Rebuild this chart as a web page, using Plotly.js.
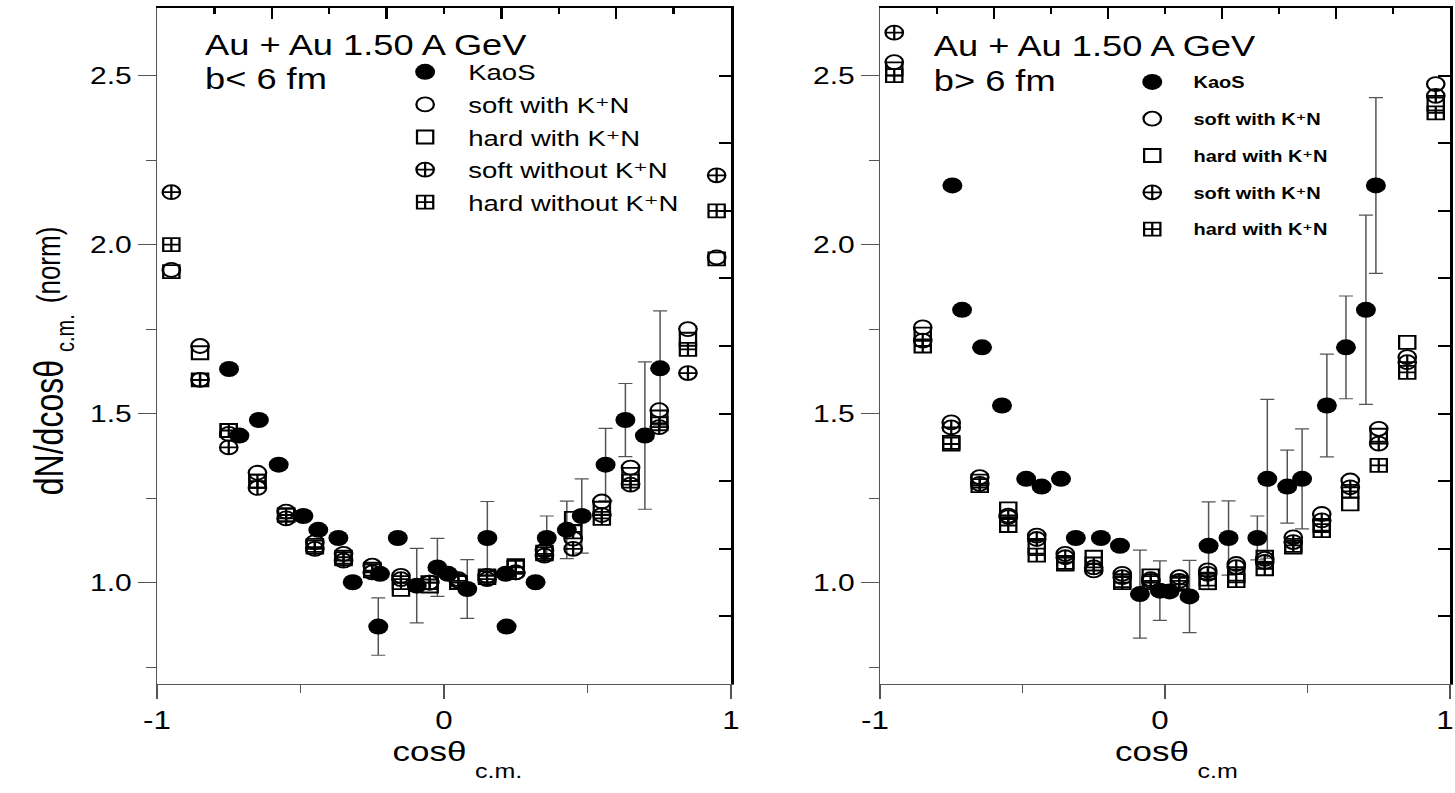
<!DOCTYPE html>
<html>
<head>
<meta charset="utf-8">
<script src="https://cdn.plot.ly/plotly-3.0.1.min.js"></script>
<style>
html,body{margin:0;padding:0;background:#fff;overflow:hidden}
#wrap{width:1455px;height:793px;overflow:hidden}
#chart{width:1164px;height:793px;transform:scaleX(1.25);transform-origin:0 0}
</style>
</head>
<body>
<div id="wrap"><div id="chart"></div></div>
<script>
// ---------- data ----------
const modelX = [-0.95,-0.85,-0.75,-0.65,-0.55,-0.45,-0.35,-0.25,-0.15,-0.05,0.05,0.15,0.25,0.35,0.45,0.55,0.65,0.75,0.85,0.95];

// left panel: b < 6 fm
const softWithL = [1.925,1.70,1.44,1.325,1.21,1.12,1.085,1.05,1.02,1.00,1.01,1.02,1.03,1.095,1.13,1.24,1.34,1.51,1.75,1.962];
const hardWithL = [1.92,1.68,1.45,1.30,1.20,1.11,1.07,1.04,0.98,0.99,1.00,1.015,1.05,1.09,1.19,1.22,1.32,1.49,1.72,1.958];
const softWoL   = [2.155,1.60,1.40,1.28,1.19,1.10,1.065,1.03,1.01,1.00,1.005,1.01,1.03,1.08,1.10,1.20,1.29,1.46,1.62,2.205];
const hardWoL   = [2.00,1.60,1.45,1.30,1.20,1.105,1.075,1.035,1.00,1.00,1.00,1.02,1.045,1.085,1.15,1.19,1.30,1.47,1.69,2.10];

const kaosXL = [-0.749,-0.713,-0.645,-0.576,-0.490,-0.438,-0.368,-0.318,-0.229,-0.223,-0.161,-0.095,-0.023,0.014,0.081,0.151,0.215,0.218,0.319,0.358,0.428,0.480,0.563,0.632,0.700,0.753];
const kaosYL = [1.632,1.435,1.481,1.349,1.197,1.156,1.132,1.001,0.870,1.026,1.132,0.991,1.045,1.026,0.981,1.132,1.026,0.870,1.001,1.132,1.156,1.197,1.349,1.481,1.435,1.634];
const kaosEL = [0,0,0,0,0,0,0,0,0.085,0,0,0.11,0.086,0,0.087,0.108,0,0,0,0.065,0.085,0.11,0.107,0.108,0.218,0.17];

// right panel: b > 6 fm
const softWithR = [2.54,1.755,1.474,1.312,1.198,1.139,1.085,1.036,1.026,1.01,1.016,1.036,1.055,1.07,1.134,1.203,1.302,1.455,1.667,2.475];
const hardWithR = [2.52,1.735,1.415,1.30,1.218,1.105,1.055,1.075,1.006,1.02,1.00,1.00,1.02,1.075,1.105,1.169,1.233,1.436,1.711,2.416];
const softWoR   = [2.627,1.716,1.459,1.292,1.194,1.129,1.075,1.045,1.016,1.005,1.005,1.026,1.046,1.061,1.12,1.184,1.282,1.411,1.652,2.44];
const hardWoR   = [2.50,1.70,1.41,1.287,1.169,1.081,1.06,1.055,1.00,1.00,0.995,1.01,1.006,1.041,1.11,1.154,1.27,1.347,1.622,2.39];

const kaosXR = [-0.746,-0.712,-0.642,-0.572,-0.487,-0.433,-0.365,-0.313,-0.225,-0.158,-0.088,-0.018,0.016,0.086,0.153,0.223,0.324,0.359,0.429,0.481,0.568,0.635,0.705,0.740];
const kaosYR = [2.175,1.807,1.696,1.524,1.307,1.284,1.307,1.132,1.132,1.109,0.966,0.976,0.974,0.959,1.109,1.132,1.132,1.307,1.284,1.307,1.524,1.696,1.807,2.175];
const kaosER = [0,0,0,0,0,0,0,0,0,0,0.13,0.088,0,0.107,0.13,0.11,0.065,0.235,0.108,0.148,0.152,0.152,0.28,0.26];

const namesL = ['KaoS','soft with K\u207AN','hard with K\u207AN','soft without K\u207AN','hard without K\u207AN'];
const namesR = ['KaoS','soft with K\u207AN','hard with K\u207AN','soft with K\u207AN','hard with K\u207AN'];

const xTickVals = [-1,0,1];
const xTickText = ['-1','0','1'];
const yTickVals = [1.0,1.5,2.0,2.5];
const yTickText = ['1.0','1.5','2.0','2.5'];

// ---------- styling ----------
const SX = 1.25; // the reference picture is stretched horizontally by this factor
const FONT = '"Liberation Sans", Arial, "DejaVu Sans", sans-serif';
const symbols = ['circle','circle-open','square-open','circle-cross-open','square-cross-open'];
const sizes = [16,14,13,14,13];

function panel(axes, legendId, kx, ky, ke, series, names){
  const tr = [];
  tr.push({
    type:'scatter', mode:'markers', x:kx, y:ky, xaxis:axes[0][0], yaxis:axes[0][1],
    name:names[0], legend:legendId, legendgroup:legendId+'0',
    marker:{symbol:'circle', size:sizes[0], color:'#000'},
    error_y:{type:'data', array:ke, visible:true, color:'#555', thickness:1.2, width:7/SX}
  });
  series.forEach((s,i)=>{
    const ax = i === 3 ? axes[1] : axes[0];   // last series sits on the mirrored (top/right) axes
    tr.push({
      type:'scatter', mode:'markers', x:modelX, y:s, xaxis:ax[0], yaxis:ax[1],
      name:names[i+1], legend:legendId, legendgroup:legendId+(i+1),
      marker:{symbol:symbols[i+1], size:sizes[i+1], color:'#000', line:{width:1.8, color:'#000'}}
    });
  });
  return tr;
}

const traces = [
  ...panel([['x','y'],['x3','y3']],'legend',kaosXL,kaosYL,kaosEL,[softWithL,hardWithL,softWoL,hardWoL],namesL),
  ...panel([['x2','y2'],['x4','y4']],'legend2',kaosXR,kaosYR,kaosER,[softWithR,hardWithR,softWoR,hardWoR],namesR)
];

const W = 1455, H = 793;
const px = v => v / W;          // reference x pixel -> paper
const py = v => 1 - v / H;      // reference y pixel -> paper
const dxL = [px(157), px(731)], dxR = [px(880), px(1450)];
const dy = [py(684), py(8)];

function bottomX(dom, anchor, shift){
  return {domain:dom, anchor:anchor, range:[-1,1], tickmode:'array', tickvals:xTickVals, ticktext:xTickText,
    ticks:'outside', ticklen:14, tickwidth:1, tickcolor:'#555', ticklabelshift:shift,
    minor:{tickmode:'array', tickvals:[-0.5,0.5], ticks:'outside', ticklen:8, tickwidth:1, tickcolor:'#555'},
    showline:true, linecolor:'#555', linewidth:1.3, showgrid:false, zeroline:false,
    tickfont:{family:FONT, size:25, color:'#000'}, fixedrange:true};
}
function topX(dom, over, anchor){
  return {domain:dom, overlaying:over, anchor:anchor, side:'top', range:[-1,1], tickmode:'array',
    tickvals:[-0.6,-0.2,0.2,0.6], ticks:'inside', ticklen:11, tickwidth:2, tickcolor:'#000',
    minor:{tickmode:'array', tickvals:[-0.8,-0.4,0,0.4,0.8], ticks:'inside', ticklen:6, tickwidth:2, tickcolor:'#000'},
    showticklabels:false, showline:true, linecolor:'#000', linewidth:2, showgrid:false, zeroline:false, fixedrange:true};
}
function leftY(anchor){
  return {domain:dy, anchor:anchor, range:[0.7,2.7], tickmode:'array', tickvals:yTickVals, ticktext:yTickText,
    ticks:'outside', ticklen:18/SX, tickwidth:1, tickcolor:'#555',
    minor:{tickmode:'array', tickvals:[0.75,1.25,1.75,2.25], ticks:'outside', ticklen:10/SX, tickwidth:1, tickcolor:'#555'},
    showline:true, linecolor:'#555', linewidth:1.3/SX, showgrid:false, zeroline:false,
    tickfont:{family:FONT, size:24, color:'#000'}, fixedrange:true};
}
function rightY(over, anchor){
  return {domain:dy, overlaying:over, anchor:anchor, side:'right', range:[0.7,2.7], tickmode:'array',
    tickvals:[0.7,0.9,1.1,1.3,1.5,1.7,1.9,2.1,2.3,2.5], ticks:'inside', ticklen:12/SX, tickwidth:2, tickcolor:'#000',
    showticklabels:false, showline:true, linecolor:'#000', linewidth:3/SX, showgrid:false, zeroline:false, fixedrange:true};
}

function note(text, x, y, size, xa, ya, extra){
  return Object.assign({text:text, xref:'paper', yref:'paper', x:px(x), y:py(y), xanchor:xa, yanchor:ya,
    showarrow:false, font:{family:FONT, size:size, color:'#000'}}, extra || {});
}

const layout = {
  width:1164, height:793, margin:{l:0,r:0,t:0,b:0},
  paper_bgcolor:'#fff', plot_bgcolor:'rgba(0,0,0,0)',
  font:{family:FONT, color:'#000'},
  xaxis:bottomX(dxL,'y',0), yaxis:leftY('x'),
  xaxis2:bottomX(dxR,'y2',-4), yaxis2:leftY('x2'),
  xaxis3:topX(dxL,'x','y3'), yaxis3:rightY('y','x3'),
  xaxis4:topX(dxR,'x2','y4'), yaxis4:rightY('y2','x4'),
  legend:{x:px(382), y:py(51), xanchor:'left', yanchor:'top', bgcolor:'rgba(0,0,0,0)',
    font:{family:FONT, size:22, color:'#000'}, traceorder:'grouped', tracegroupgap:1, itemwidth:59},
  legend2:{x:px(1111), y:py(65), xanchor:'left', yanchor:'top', bgcolor:'rgba(0,0,0,0)',
    font:{family:FONT, size:16, color:'#000', weight:'bold'}, traceorder:'grouped', tracegroupgap:13, itemwidth:56},
  showlegend:true,
  annotations:[
    note('Au + Au 1.50 A GeV', 203, 45, 29, 'left', 'middle'),
    note('b< 6 fm', 203, 79, 29, 'left', 'middle'),
    note('Au + Au 1.50 A GeV', 931, 46, 29, 'left', 'middle'),
    note('b> 6 fm', 931, 81, 29, 'left', 'middle'),
    // y title (rotated): main part, subscript, unit
    note('dN/dcosθ', 49, 428, 32, 'center', 'middle', {textangle:-90}),
    note('c.m.', 65, 333, 20, 'center', 'middle', {textangle:-90}),
    note('(norm)', 49, 265, 26, 'center', 'middle', {textangle:-90}),
    // x titles: main part + subscript
    note('cosθ', 469, 751, 28, 'right', 'middle'),
    note('c.m.', 473, 771, 20, 'left', 'middle'),
    note('cosθ', 1191, 751, 28, 'right', 'middle'),
    note('c.m', 1195, 771, 20, 'left', 'middle')
  ]
};

Plotly.newPlot('chart', traces, layout, {displayModeBar:false, staticPlot:true});
</script>
</body>
</html>
